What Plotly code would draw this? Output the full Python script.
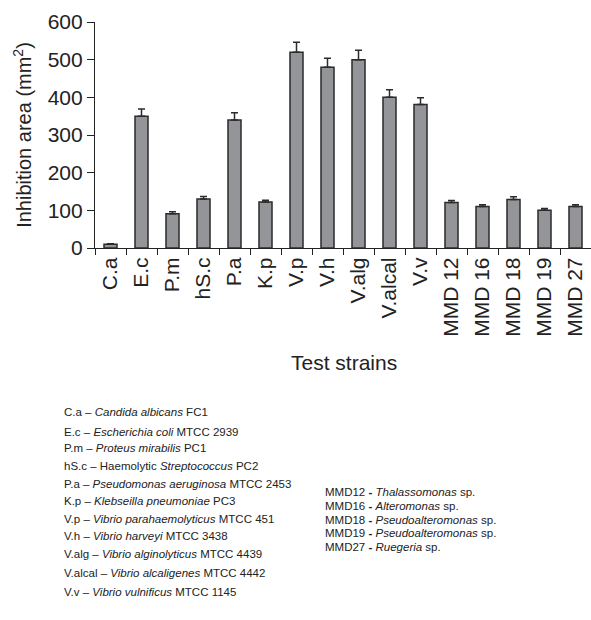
import plotly.graph_objects as go

strains = ["C.a", "E.c", "P.m", "hS.c", "P.a", "K.p", "V.p", "V.h", "V.alg",
           "V.alcal", "V.v", "MMD 12", "MMD 16", "MMD 18", "MMD 19", "MMD 27"]
inhibition = [10, 350, 91, 130, 340, 122, 520, 480, 500, 400, 381, 121, 110, 129, 100, 110]
error = [1, 19, 5, 7, 19, 5, 26, 24, 25, 20, 18, 5, 5, 7, 5, 5]

left_abbr = ["C.a", "E.c", "P.m", "hS.c", "P.a", "K.p", "V.p", "V.h", "V.alg", "V.alcal", "V.v"]
left_desc = ["<i>Candida albicans</i> FC1",
             "<i>Escherichia coli</i> MTCC 2939",
             "<i>Proteus mirabilis</i> PC1",
             "Haemolytic <i>Streptococcus</i> PC2",
             "<i>Pseudomonas aeruginosa</i> MTCC 2453",
             "<i>Klebseilla pneumoniae</i> PC3",
             "<i>Vibrio parahaemolyticus</i> MTCC 451",
             "<i>Vibrio harveyi</i> MTCC 3438",
             "<i>Vibrio alginolyticus</i> MTCC 4439",
             "<i>Vibrio alcaligenes</i> MTCC 4442",
             "<i>Vibrio vulnificus</i> MTCC 1145"]
right_abbr = ["MMD12", "MMD16", "MMD18", "MMD19", "MMD27"]
right_desc = ["<i>Thalassomonas</i> sp.", "<i>Alteromonas</i> sp.",
              "<i>Pseudoalteromonas</i> sp.", "<i>Pseudoalteromonas</i> sp.",
              "<i>Ruegeria</i> sp."]

FONT = "Liberation Sans, Arial, Helvetica, sans-serif"
W, H = 591, 620
L, R, T, B = 95, 0, 22, 372
pw, ph = W - L - R, H - T - B

def px_to_paper(x, y):
    return (x - L) / pw, (H - B - y) / ph

fig = go.Figure()
fig.add_trace(go.Bar(
    x=strains, y=inhibition,
    marker=dict(color="#939598", line=dict(color="#2b2b2b", width=1.5)),
    error_y=dict(type="data", array=error, arrayminus=[0] * len(error), symmetric=False,
                 color="#2b2b2b", thickness=1.5, width=3.5),
    width=0.42,
))

annotations = []
left_y = [412, 432, 448, 466, 484, 501, 519, 536, 554, 573, 592]
for a, d, yy in zip(left_abbr, left_desc, left_y):
    xp, yp = px_to_paper(62, yy)
    annotations.append(dict(x=xp, y=yp, xref="paper", yref="paper", showarrow=False,
                            xanchor="left", yanchor="middle", align="left",
                            text=f"{a} \u2013 {d}",
                            font=dict(family=FONT, size=11.5, color="#222")))
right_y = [492, 506, 520, 533, 547]
for a, d, yy in zip(right_abbr, right_desc, right_y):
    xp, yp = px_to_paper(323, yy)
    annotations.append(dict(x=xp, y=yp, xref="paper", yref="paper", showarrow=False,
                            xanchor="left", yanchor="middle", align="left",
                            text=f"{a} <b>-</b> {d}",
                            font=dict(family=FONT, size=11.5, color="#222")))
xp, yp = px_to_paper(344, 362)
annotations.append(dict(x=xp, y=yp, xref="paper", yref="paper", showarrow=False,
                        xanchor="center", yanchor="middle", text="Test strains",
                        font=dict(family=FONT, size=21, color="#222")))

fig.update_layout(
    width=W, height=H,
    margin=dict(l=L, r=R, t=T, b=B, pad=0),
    paper_bgcolor="white", plot_bgcolor="white",
    showlegend=False,
    font=dict(family=FONT, color="#222"),
    annotations=annotations,
    xaxis=dict(type="category", tickson="boundaries", ticks="outside", ticklen=6,
               tickwidth=1.2, tickcolor="#222", showline=True, linecolor="#222",
               linewidth=1.2, tickangle=-90, tickfont=dict(size=21, family=FONT, color="#222"),
               showgrid=False, range=[-0.5, 15.5]),
    yaxis=dict(range=[0, 600], tickvals=[0, 100, 200, 300, 400, 500, 600], ticks="outside",
               ticklen=7, tickwidth=1.2, tickcolor="#222", showline=True, linecolor="#222",
               linewidth=1.2, showgrid=False, zeroline=False,
               tickfont=dict(size=21, family=FONT, color="#222"),
               title=dict(text="Inhibition area (mm<sup>2</sup>)",
                          font=dict(size=20, family=FONT, color="#222"), standoff=10)),
)

fig.write_html("out.html")
